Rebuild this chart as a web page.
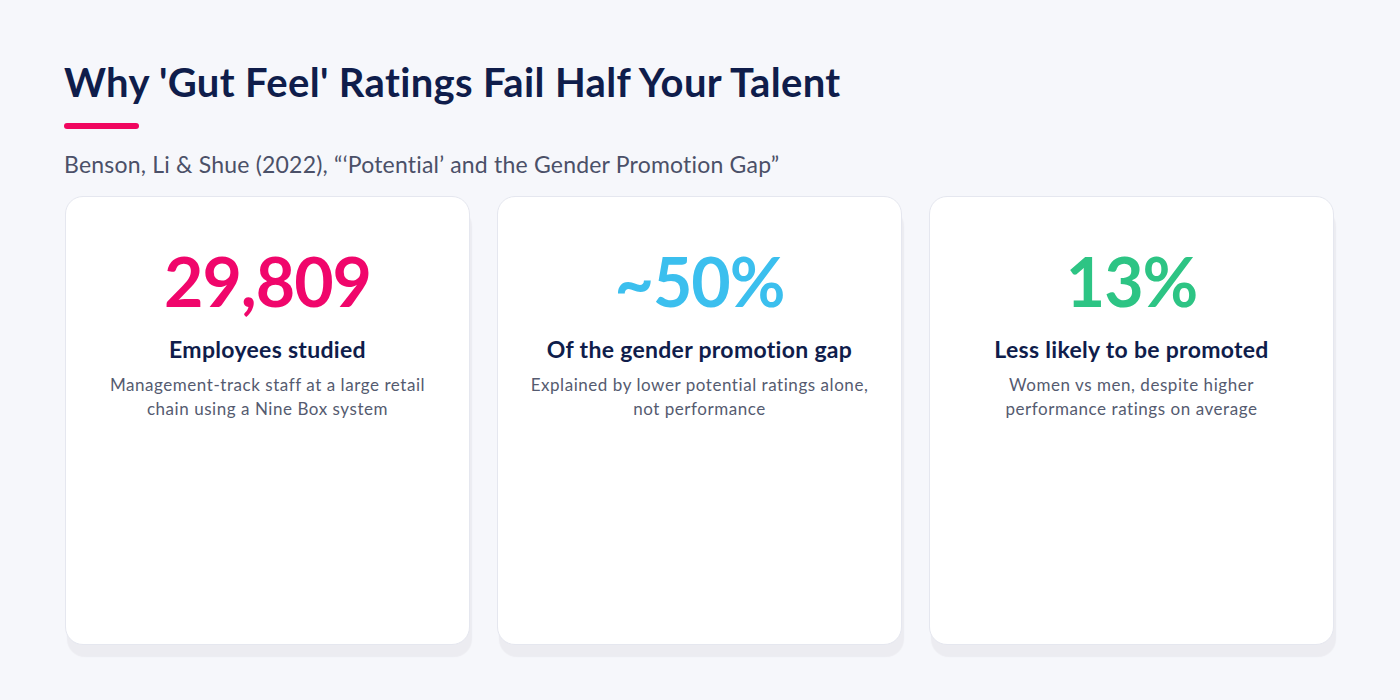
<!DOCTYPE html>
<html>
<head>
<meta charset="utf-8">
<script src="https://cdn.jsdelivr.net/npm/chart.js@4"></script>
<style>
  html, body { margin: 0; padding: 0; }
  body {
    width: 1400px; height: 700px; overflow: hidden;
    background: #f6f7fb;
    font-family: Lato, "Open Sans", sans-serif;
    position: relative;
  }
  .title {
    position: absolute; left: 64px; top: 58px;
    font-size: 40px; font-weight: 700; color: #0f1d4b;
    letter-spacing: 0.35px; white-space: nowrap;
  }
  .accent {
    position: absolute; left: 64px; top: 123px;
    width: 75px; height: 6px; border-radius: 3px;
    background: #f0065f;
  }
  .subtitle {
    position: absolute; left: 64px; top: 150px;
    font-size: 23px; color: #4b5068; letter-spacing: 0.2px; white-space: nowrap;
  }
  .card {
    position: absolute; top: 196px; width: 403px; height: 447px;
    background: #fff; border: 1px solid #e5e7ef; border-radius: 18px;
    box-shadow: 2px 12px 1px #ececf1;
  }
  .card .num, .card .label, .card .desc {
    position: absolute; left: 0; right: 0; text-align: center;
  }
  .card .num { top: 43px; font-size: 68px; font-weight: 700; letter-spacing: -1px; }
  .card .label { top: 138px; font-size: 23px; font-weight: 700; color: #0f1d4b; letter-spacing: 0.3px; }
  .card .desc { top: 176px; left: 30px; right: 30px; font-size: 17px; color: #555b70; line-height: 23.5px; letter-spacing: 0.55px; }
</style>
</head>
<body>
<div class="title" id="title"></div>
<div class="accent"></div>
<div class="subtitle" id="subtitle"></div>
<div id="cards"></div>
<script>
// stat cards (no axes here, just three key figures)
const statValues = ['29,809', '~50%', '13%'];
const statLabels = ['Employees studied', 'Of the gender promotion gap', 'Less likely to be promoted'];
const statNotes = [
  'Management-track staff at a large retail chain using a Nine Box system',
  'Explained by lower potential ratings alone, not performance',
  'Women vs men, despite higher performance ratings on average'
];
const statColors = ['#f0066b', '#3bbfee', '#2dc484'];
const cardLeft = [65, 497, 929];

document.getElementById('title').textContent = "Why 'Gut Feel' Ratings Fail Half Your Talent";
document.getElementById('subtitle').textContent = 'Benson, Li & Shue (2022), \u201c\u2018Potential\u2019 and the Gender Promotion Gap\u201d';

const holder = document.getElementById('cards');
statValues.forEach((v, i) => {
    const card = document.createElement('div');
    card.className = 'card';
    card.style.left = cardLeft[i] + 'px';

    const num = document.createElement('div');
    num.className = 'num';
    num.style.color = statColors[i];
    num.textContent = v;

    const label = document.createElement('div');
    label.className = 'label';
    label.textContent = statLabels[i];

    const desc = document.createElement('div');
    desc.className = 'desc';
    desc.textContent = statNotes[i];

    card.appendChild(num);
    card.appendChild(label);
    card.appendChild(desc);
    holder.appendChild(card);
});
</script>
</body>
</html>
